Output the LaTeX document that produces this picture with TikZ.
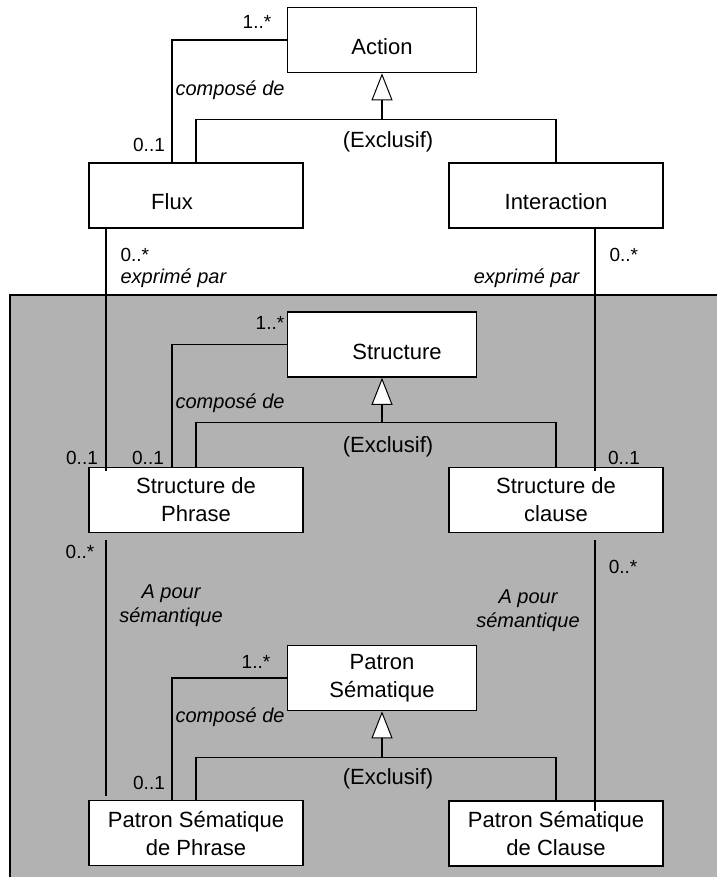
\documentclass[tikz,border=0pt]{standalone}
\usepackage{fontspec}
\setmainfont{Liberation Sans}
\usetikzlibrary{calc, arrows.meta}
\definecolor{fondgris}{RGB}{178,178,178}

\begin{document}
\begin{tikzpicture}[x=1pt, y=-1pt, line width=1.2pt,
		classe/.style={draw, fill=white, line width=1.6pt, minimum width=214pt, minimum height=65pt, inner sep=0pt, align=center, font=\fontsize{22}{28}\selectfont},
		mere/.style={classe, minimum width=189pt},
		seule/.style={text height=29pt, text depth=0pt},
		role/.style={font=\fontsize{20}{24}\selectfont\itshape, align=center, inner sep=0pt},
		mult/.style={font=\fontsize{19}{23}\selectfont, inner sep=0pt},
		excl/.style={font=\fontsize{22}{28}\selectfont, inner sep=0pt},
		herite/.style={-{Triangle[width=21pt, length=27pt, fill=white, line width=1pt]}}]
		\useasboundingbox (0,0) rectangle (717,877);
		\fill[fondgris] (10,295) rectangle (717,877);
		\draw[line width=2pt] (10,877) |- (717,295);

		\coordinate (action)      at (382, 40);
		\coordinate (flux)        at (196, 195.5);
		\coordinate (interaction) at (556, 195.5);
		\coordinate (structure)   at (382, 344.5);
		\coordinate (phrase)      at (196, 500);
		\coordinate (clause)      at (556, 500);
		\coordinate (patron)      at (382, 678);
		\coordinate (patphrase)   at (196, 833);
		\coordinate (patclause)   at (556, 833.5);

		\node[mere, seule]   (ACT) at (action) {Action};
		\node[classe, seule] (FLU) at (flux) {Flux\hspace*{48pt}};
		\node[classe, seule] (INT) at (interaction) {Interaction};
		\node[mere, seule]   (STR) at (structure) {\hspace*{30pt}Structure};
		\node[classe] (SPH) at (phrase) {Structure de\\Phrase};
		\node[classe] (SCL) at (clause) {Structure de\\clause};
		\node[mere]   (PAT) at (patron) {Patron\\Sématique};
		\node[classe] (PSP) at (patphrase) {Patron Sématique\\de Phrase};
		\node[classe] (PSC) at (patclause) {Patron Sématique\\de Clause};

		% composition
		\draw (ACT.west) -| ($(FLU.north)+(-24,0)$);
		\draw (STR.west) -| ($(SPH.north)+(-24,0)$);
		\draw (PAT.west) -| ($(PSP.north)+(-24,0)$);

		% heritage
		\draw (FLU.north) |- ($(ACT.south)+(0,46)$) -| (INT.north);
		\draw[herite] ($(ACT.south)+(0,46)$) -- (ACT.south);
		\draw (SPH.north) |- ($(STR.south)+(0,45)$) -| (SCL.north);
		\draw[herite] ($(STR.south)+(0,45)$) -- (STR.south);
		\draw (PSP.north) |- ($(PAT.south)+(0,46)$) -| (PSC.north);
		\draw[herite] ($(PAT.south)+(0,46)$) -- (PAT.south);

		% associations
		\draw ($(FLU.south)+(-90,0)$) -- ($(SPH.north)+(-90,4)$);
		\draw ($(INT.south)+(39,0)$) -- ($(SCL.north)+(39,4)$);
		\draw ($(SPH.south)+(-90,7)$) -- ($(PSP.north)+(-90,-4)$);
		\draw ($(SCL.south)+(39,7)$) -- ($(PSC.north)+(39,11)$);

		\node[mult] (mACT) at (257, 22) {1..*};
		\node[role, anchor=west] (cACT) at (175, 90) {composé de};
		\node[mult] (mFLU) at (149, 145) {0..1};
		\node[excl] (xACT) at (388, 142) {(Exclusif)};
		\node[mult, anchor=west] (eFLU) at (120, 255) {0..*};
		\node[role, anchor=west] (rFLU) at (120, 278) {exprimé par};
		\node[mult, anchor=west] (eINT) at (609, 255) {0..*};
		\node[role, anchor=east] (rINT) at (580, 278) {exprimé par};

		\node[mult] (mSTR) at (270, 323) {1..*};
		\node[role, anchor=west] (cSTR) at (175, 403) {composé de};
		\node[excl] (xSTR) at (388, 447) {(Exclusif)};
		\node[mult] (eSPH) at (82, 458) {0..1};
		\node[mult] (mSPH) at (148, 458) {0..1};
		\node[mult] (eSCL) at (624, 458) {0..1};

		\node[mult] (sSPH) at (80, 552) {0..*};
		\node[role] (rSPH) at (171, 606) {A pour\\sémantique};
		\node[mult] (sSCL) at (623, 567) {0..*};
		\node[role] (rSCL) at (528, 611) {A pour\\sémantique};

		\node[mult] (mPAT) at (256, 662) {1..*};
		\node[role, anchor=west] (cPAT) at (175, 717) {composé de};
		\node[excl] (xPAT) at (388, 779) {(Exclusif)};
		\node[mult] (mPSP) at (149, 783) {0..1};
	\end{tikzpicture}
\end{document}
